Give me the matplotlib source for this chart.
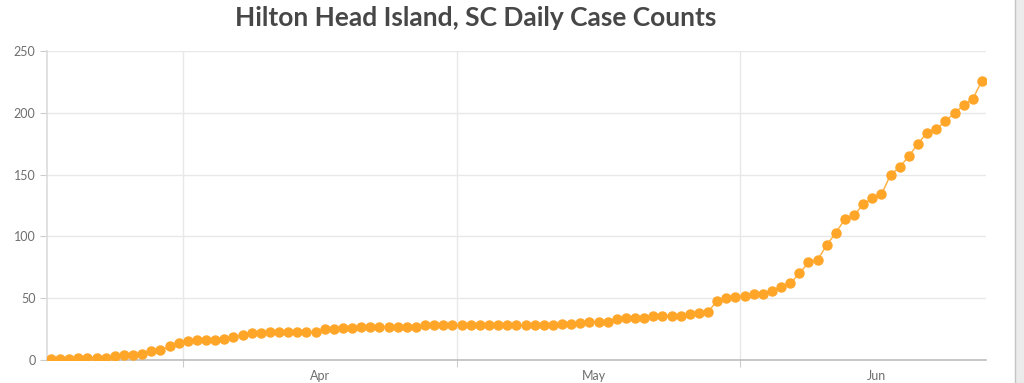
import matplotlib
matplotlib.use("Agg")
import matplotlib.pyplot as plt
import matplotlib.dates as mdates
import matplotlib.patches as mpatches
import pandas as pd

title = "Hilton Head Island, SC Daily Case Counts"
start_date = "2020-03-17 12:00"
cases = [1, 1, 1, 2, 2, 2, 2, 3, 4, 4,
         5, 7, 8, 11, 14, 15, 16, 16, 16, 17,
         19, 20, 22, 22, 23, 23, 23, 23, 23, 23,
         25, 25, 26, 26, 27, 27, 27, 27, 27, 27,
         27, 28, 28, 28, 28, 28, 28, 28, 28, 28,
         28, 28, 28, 28, 28, 28, 29, 29, 30, 31,
         31, 31, 33, 34, 34, 34, 36, 36, 36, 36,
         37, 38, 39, 48, 50, 51, 52, 53, 53, 56,
         59, 62, 70, 79, 81, 93, 103, 114, 117, 126,
         131, 134, 150, 156, 165, 175, 184, 187, 193, 200,
         206, 211, 226]
yticks = [0, 50, 100, 150, 200, 250]

dates = pd.date_range(start_date, periods=len(cases), freq="D")

fig = plt.figure(figsize=(10.24, 3.83), dpi=100)
ax = fig.add_axes([0.0456, 0.06, 0.917, 0.807])

orange = "#ffa629"
ax.plot(dates, cases, color="#ffb347", lw=1.1, zorder=3)
ax.plot(dates, cases, lw=0, marker="o", markersize=6.5,
        markerfacecolor=orange, markeredgecolor=orange, zorder=4)

ax.set_ylim(0, 250)
ax.set_yticks(yticks)
ax.set_xlim(dates[0] - pd.Timedelta(hours=11), dates[-1] + pd.Timedelta(hours=10))

ax.xaxis.set_major_locator(mdates.MonthLocator())
ax.xaxis.set_major_formatter(plt.NullFormatter())
ax.xaxis.set_minor_locator(mdates.MonthLocator(bymonthday=16))
ax.xaxis.set_minor_formatter(mdates.DateFormatter("%b"))

ax.grid(axis="y", color="#e8e8e8", lw=1)
ax.grid(axis="x", which="major", color="#e8e8e8", lw=1)
ax.set_axisbelow(True)

for s in ["top", "right"]:
    ax.spines[s].set_visible(False)
ax.spines["left"].set_color("#dcdcdc")
ax.spines["left"].set_linewidth(1.2)
ax.spines["bottom"].set_color("#bdbdbd")
ax.spines["bottom"].set_linewidth(1.2)

ax.tick_params(axis="y", length=5, color="#cccccc", labelsize=9, labelcolor="#6e6e6e", pad=3)
ax.tick_params(axis="x", which="major", length=5, color="#cccccc", labelsize=0)
ax.tick_params(axis="x", which="minor", length=0, labelsize=9, labelcolor="#6e6e6e", pad=7)
for lab in ax.get_yticklabels() + ax.get_xticklabels(minor=True):
    lab.set_family("Lato")

fig.text(0.465, 0.952, title, ha="center", va="center", fontsize=19,
         fontweight="bold", color="#474747", family="Lato")

# browser scrollbar strip at right edge
fig.patches.append(mpatches.Rectangle((1015 / 1024, 0), 9 / 1024, 1, transform=fig.transFigure,
                                      facecolor="#ebebeb", edgecolor="none", zorder=0))
fig.lines.append(plt.Line2D([1015 / 1024, 1015 / 1024], [0, 1], transform=fig.transFigure,
                            color="#c4c4c4", lw=1))

fig.savefig("out.png", dpi=100)
